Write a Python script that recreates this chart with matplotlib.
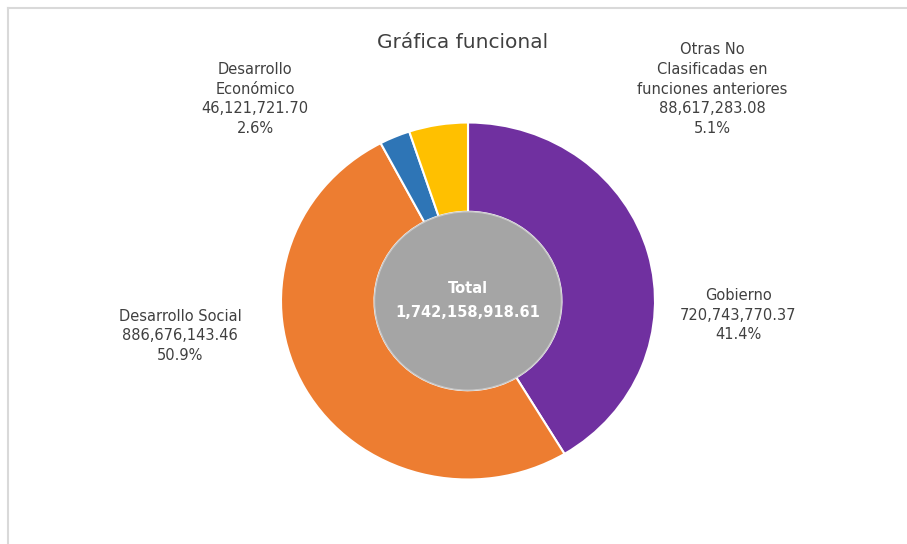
import matplotlib.pyplot as plt
from matplotlib.lines import Line2D
from matplotlib.patches import Circle

W, H = 907, 544

categories = ['Gobierno', 'Desarrollo Social', 'Desarrollo\nEconómico',
              'Otras No\nClasificadas en\nfunciones anteriores']
values = [720743770.37, 886676143.46, 46121721.70, 88617283.08]
colors = ['#7030A0', '#ED7D31', '#2E75B6', '#FFC000']
total = sum(values)

fig = plt.figure(figsize=(W / 100, H / 100), dpi=100)
fig.patch.set_facecolor('white')

def fx(px):
    return px / W

def fy(py):
    return 1 - py / H

# donut axes (slightly wider than tall, as in the reference)
cx, cy, rx, ry = 468, 301, 187, 178.5
ax = fig.add_axes([fx(cx - rx), fy(cy + ry), 2 * rx / W, 2 * ry / H])
ax.pie(values, colors=colors, startangle=90, counterclock=False,
       radius=1.0, wedgeprops=dict(width=0.5, edgecolor='white', linewidth=1.5))
ax.add_patch(Circle((0, 0), 0.5, facecolor='#A5A5A5', edgecolor='#C8C8C8', lw=1, zorder=3))
ax.set_aspect('auto')
ax.set_xlim(-1.0, 1.0)
ax.set_ylim(-1.0, 1.0)
ax.axis('off')

ax.text(0, 0.07, 'Total', ha='center', va='center', color='white',
        fontsize=10.5, fontweight='bold', zorder=4)
ax.text(0, -0.065, f'{total:,.2f}', ha='center', va='center', color='white',
        fontsize=10.5, fontweight='bold', zorder=4)

# labels
txt_color = '#404040'
label_pos = [(738, 315), (180, 336), (255, 99), (712, 89)]
for name, v, (px, py) in zip(categories, values, label_pos):
    s = f'{name}\n{v:,.2f}\n{v / total * 100:.1f}%'
    fig.text(fx(px), fy(py), s, ha='center', va='center', color=txt_color,
             fontsize=10.5, linespacing=1.4)

fig.text(fx(463), fy(42), 'Gráfica funcional', ha='center', va='center',
         color=txt_color, fontsize=14.5)

# chart frame edges (left and top visible)
fig.add_artist(Line2D([fx(8), fx(8)], [fy(8), 0], color='#D9D9D9', lw=1.5))
fig.add_artist(Line2D([fx(8), 1], [fy(8), fy(8)], color='#D9D9D9', lw=1.5))

fig.savefig('out.png', dpi=100, facecolor='white')
plt.close(fig)
